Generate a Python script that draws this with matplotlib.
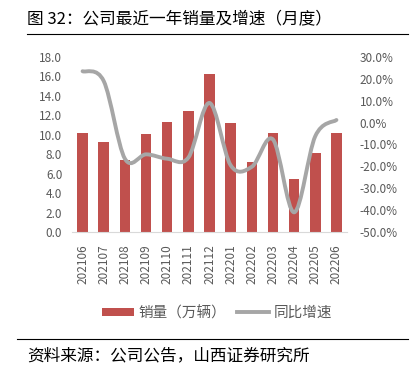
import matplotlib
matplotlib.use("Agg")
import matplotlib.pyplot as plt
from matplotlib.path import Path
from matplotlib.patches import PathPatch
from matplotlib.lines import Line2D
from matplotlib.patches import Patch
import numpy as np

plt.rcParams['font.family'] = ['Noto Sans CJK SC', 'DejaVu Sans']

months = ["202106", "202107", "202108", "202109", "202110", "202111", "202112",
          "202201", "202202", "202203", "202204", "202205", "202206"]
sales = [10.2, 9.25, 7.45, 10.05, 11.3, 12.4, 16.3, 11.2, 7.15, 10.2, 5.45, 8.1, 10.2]
growth = [23.5, 19.0, -16.5, -14.5, -16.5, -16.0, 9.0, -19.5, -20.2, -7.7, -41.0, -6.2, 1.2]

left_ticks = [0, 2, 4, 6, 8, 10, 12, 14, 16, 18]
right_ticks = [-50, -40, -30, -20, -10, 0, 10, 20, 30]

bar_color = "#C0504D"
line_color = "#A6A6A6"
text_color = "#595959"

fig = plt.figure(figsize=(4.2, 3.72), dpi=100)
ax = fig.add_axes([72/420, 1-232/372, 275/420, 175/372])
ax2 = ax.twinx()

x = np.arange(len(months))
ax.bar(x, sales, width=0.5, color=bar_color, zorder=2)
ax.set_xlim(-0.5, len(months) - 0.5)
ax.set_ylim(0, 18)
ax.set_yticks(left_ticks)
ax.set_yticklabels([f"{v:.1f}" for v in left_ticks])
ax.set_xticks(x)
ax.set_xticklabels(months, rotation=90)

ax2.set_ylim(-50, 30)
ax2.set_yticks(right_ticks)
ax2.set_yticklabels([f"{v:.1f}%" for v in right_ticks])

# smoothed line (Excel-style Bezier through the data points)
pts = np.column_stack([x, growth]).astype(float)
verts = [tuple(pts[0])]
codes = [Path.MOVETO]
n = len(pts)
for i in range(n - 1):
    p0 = pts[i - 1] if i > 0 else pts[i]
    p1 = pts[i]
    p2 = pts[i + 1]
    p3 = pts[i + 2] if i + 2 < n else pts[i + 1]
    c1 = p1 + (p2 - p0) / 6.0
    c2 = p2 - (p3 - p1) / 6.0
    verts += [tuple(c1), tuple(c2), tuple(p2)]
    codes += [Path.CURVE4] * 3
path = Path(verts, codes)
ax2.add_patch(PathPatch(path, facecolor="none", edgecolor=line_color, lw=2.8,
                        capstyle="round", joinstyle="round", zorder=3))

for a in (ax, ax2):
    for s in ("top", "right", "left"):
        a.spines[s].set_visible(False)
    a.spines["bottom"].set_color("#D9D9D9")
    a.tick_params(length=0, labelsize=8.5, colors=text_color)
ax2.spines["bottom"].set_visible(False)
ax.tick_params(axis="x", labelsize=8.5, pad=9)
ax.tick_params(axis="y", pad=7)
ax2.tick_params(axis="y", pad=9)

handles = [Patch(facecolor=bar_color, edgecolor="none"),
           Line2D([0], [0], color=line_color, lw=2.8)]
fig.legend(handles, ["销量（万辆）", "同比增速"], loc="center",
           bbox_to_anchor=(217/420, 1-313/372), ncol=2, frameon=False,
           fontsize=10.5, labelcolor=text_color, handlelength=2.2,
           handleheight=0.55, handletextpad=0.35, columnspacing=0.7)

fig.text(27/420, 1-19/372, "图 32：公司最近一年销量及增速（月度）", fontsize=12,
         color="black", va="center", ha="left")
fig.add_artist(Line2D([27/420, 408/420], [1-34/372, 1-34/372], color="black", lw=0.8))
fig.add_artist(Line2D([17/420, 408/420], [1-339/372, 1-339/372], color="black", lw=0.8))
fig.text(27/420, 1-356/372, "资料来源：公司公告，山西证券研究所", fontsize=12,
         color="black", va="center", ha="left")

fig.savefig("out.png", dpi=100)
